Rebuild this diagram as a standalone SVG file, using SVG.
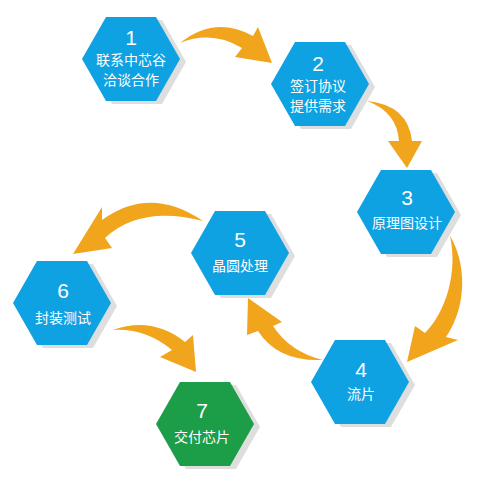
<svg xmlns="http://www.w3.org/2000/svg" xmlns:xlink="http://www.w3.org/1999/xlink" width="487" height="493" viewBox="0 0 487 493">
<style>
.shadow{fill:#dedede}
.blue{fill:#0ea2e3}
.green{fill:#1c9d48}
.num{font-family:"Liberation Sans","Noto Sans CJK SC",sans-serif;font-size:21px;fill:#fff;text-anchor:middle}
.lbl{font-family:"Noto Sans CJK SC","Liberation Sans",sans-serif;font-size:14px;fill:#fff;text-anchor:middle}
.arrow{fill:#f1a51d}
</style>
<defs>
<path id="hex" d="M -49 0 L -25 -42 L 25 -42 L 49 0 L 25 42 L -25 42 Z"/>
</defs>
<rect width="487" height="493" fill="#fff"/>
<g id="connectors">
<path class="arrow" d="M 180 43 Q 215 15 253 36 L 258 27 L 272 63 L 235 57 L 242 48 Q 212 30 180 43 Z"/>
<path class="arrow" d="M 367 101 Q 408 105 412 141 L 422 141 L 407 168 L 388 141 L 399 141 Q 397 112 367 101 Z"/>
<path class="arrow" d="M 450 236 C 466 262 468 305 446 337 L 458 340 L 407 362 L 415 326 L 425 333 C 446 312 458 272 450 236 Z"/>
<path class="arrow" d="M 323 360 Q 278 362 258 331 L 247 335 L 248 298 L 282 322 L 273 326 Q 290 352 323 360 Z"/>
<path class="arrow" d="M 203 221 Q 150 185 102 220 L 102 207 L 73 254 L 112 248 L 105 238 Q 140 205 203 221 Z"/>
<path class="arrow" d="M 113 330 Q 152 316 185 342 L 193 335 L 196 372 L 160 357 L 172 350 Q 145 328 113 330 Z"/>
</g>
<g id="node1">
<use xlink:href="#hex" class="shadow" transform="translate(137,62)"/>
<use xlink:href="#hex" class="blue" transform="translate(131,59)"/>
<text class="num" x="131" y="45">1</text>
<text class="lbl" x="131" y="65">联系中芯谷</text>
<text class="lbl" x="131" y="85">洽谈合作</text>
</g>
<g id="node2">
<use xlink:href="#hex" class="shadow" transform="translate(326,87)"/>
<use xlink:href="#hex" class="blue" transform="translate(320,84)"/>
<text class="num" x="318" y="71">2</text>
<text class="lbl" x="318" y="91">签订协议</text>
<text class="lbl" x="318" y="111">提供需求</text>
</g>
<g id="node3">
<use xlink:href="#hex" class="shadow" transform="translate(412,215)"/>
<use xlink:href="#hex" class="blue" transform="translate(406,212)"/>
<text class="num" x="407" y="205">3</text>
<text class="lbl" x="407" y="228">原理图设计</text>
</g>
<g id="node4">
<use xlink:href="#hex" class="shadow" transform="translate(366,385)"/>
<use xlink:href="#hex" class="blue" transform="translate(360,382)"/>
<text class="num" x="361" y="377">4</text>
<text class="lbl" x="361" y="399">流片</text>
</g>
<g id="node5">
<use xlink:href="#hex" class="shadow" transform="translate(246,256)"/>
<use xlink:href="#hex" class="blue" transform="translate(240,253)"/>
<text class="num" x="240" y="247">5</text>
<text class="lbl" x="240" y="271">晶圆处理</text>
</g>
<g id="node6">
<use xlink:href="#hex" class="shadow" transform="translate(68,306)"/>
<use xlink:href="#hex" class="blue" transform="translate(62,303)"/>
<text class="num" x="63" y="298">6</text>
<text class="lbl" x="63" y="323">封装测试</text>
</g>
<g id="node7">
<use xlink:href="#hex" class="shadow" transform="translate(211,427)"/>
<use xlink:href="#hex" class="green" transform="translate(205,424)"/>
<text class="num" x="202" y="418">7</text>
<text class="lbl" x="202" y="442">交付芯片</text>
</g>
</svg>
